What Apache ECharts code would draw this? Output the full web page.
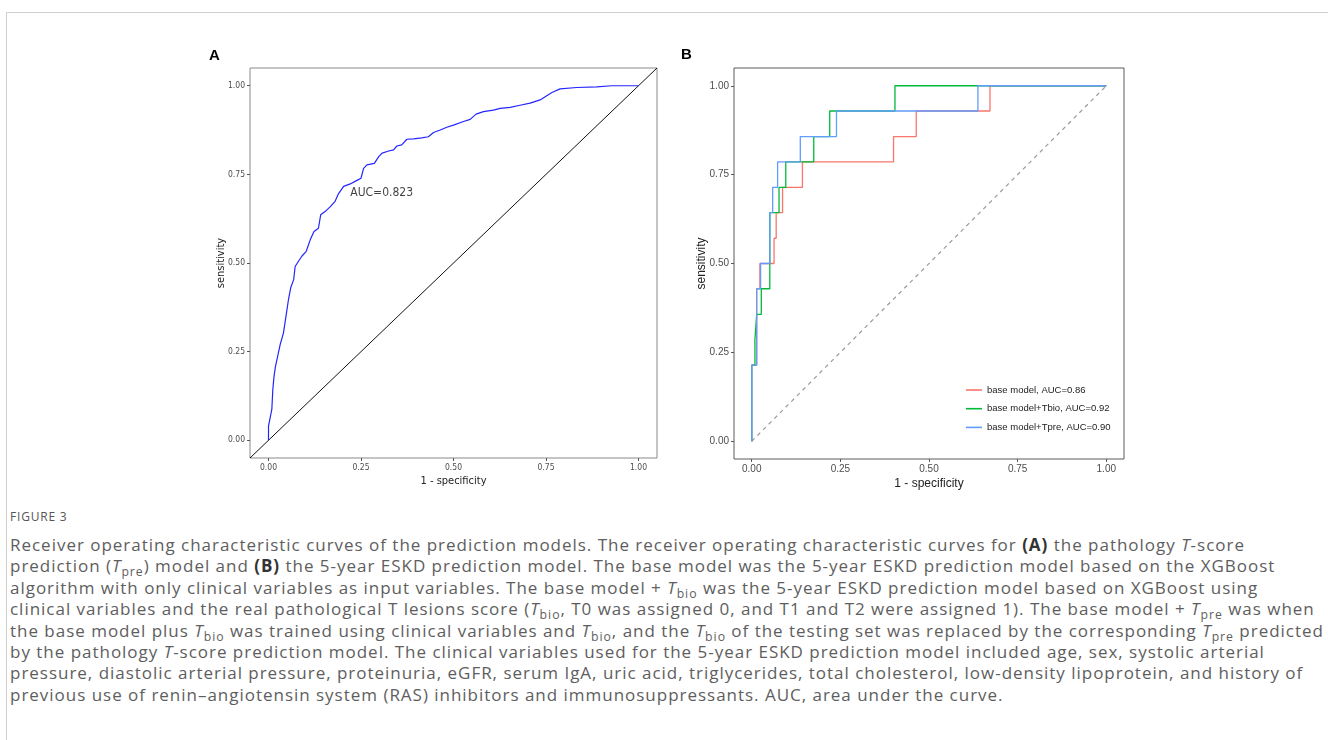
<!DOCTYPE html>
<html>
<head>
<meta charset="utf-8">
<script src="https://cdn.jsdelivr.net/npm/echarts@6/dist/echarts.min.js"></script>
<style>
  html, body { margin: 0; padding: 0; background: #fff; }
  #page { position: relative; width: 1328px; height: 740px; overflow: hidden; }
  #frame { position: absolute; left: 6px; top: 12px; right: -2px; bottom: -2px;
           border-top: 1px solid #cfcfcf; border-left: 1px solid #cfcfcf; }
  #chart { position: absolute; left: 0; top: 0; width: 1328px; height: 500px; }
  #figtitle { position: absolute; left: 10px; top: 509px; font-family: "Open Sans", sans-serif;
              font-size: 12px; line-height: 16px; color: #555; letter-spacing: 0.8px; }
  #caption { position: absolute; left: 10px; top: 534px; font-family: "Open Sans", sans-serif;
             font-size: 17px; line-height: 21.4px; color: #5e5e5e; white-space: nowrap; letter-spacing: 0.98px; }
  #caption b { color: #333; }
  #caption sub { font-size: 0.72em; line-height: 0; vertical-align: -0.3em; }
</style>
</head>
<body>
<div id="page">
  <div id="frame"></div>
  <div id="chart"></div>
  <div id="figtitle">FIGURE 3</div>
  <div id="caption">
    Receiver operating characteristic curves of the prediction models. The receiver operating characteristic curves for <b>(A)</b> the pathology <i>T</i>-score<br>
    prediction (<i>T</i><sub>pre</sub>) model and <b>(B)</b> the 5-year ESKD prediction model. The base model was the 5-year ESKD prediction model based on the XGBoost<br>
    algorithm with only clinical variables as input variables. The base model + <i>T</i><sub>bio</sub> was the 5-year ESKD prediction model based on XGBoost using<br>
    clinical variables and the real pathological T lesions score (<i>T</i><sub>bio</sub>, T0 was assigned 0, and T1 and T2 were assigned 1). The base model + <i>T</i><sub>pre</sub> was when<br>
    the base model plus <i>T</i><sub>bio</sub> was trained using clinical variables and <i>T</i><sub>bio</sub>, and the <i>T</i><sub>bio</sub> of the testing set was replaced by the corresponding <i>T</i><sub>pre</sub> predicted<br>
    by the pathology <i>T</i>-score prediction model. The clinical variables used for the 5-year ESKD prediction model included age, sex, systolic arterial<br>
    pressure, diastolic arterial pressure, proteinuria, eGFR, serum IgA, uric acid, triglycerides, total cholesterol, low-density lipoprotein, and history of<br>
    previous use of renin–angiotensin system (RAS) inhibitors and immunosuppressants. AUC, area under the curve.
  </div>
</div>
<script>
// panel A: pathology T-score prediction ROC
var fprA = [0, 0, 0.0045, 0.009, 0.0117, 0.015, 0.019, 0.024, 0.0315, 0.0405, 0.048, 0.054, 0.06, 0.068, 0.072,
  0.081, 0.09, 0.102, 0.113, 0.123, 0.135, 0.141, 0.153, 0.167, 0.18, 0.189, 0.203, 0.221, 0.239, 0.25, 0.257,
  0.266, 0.286, 0.298, 0.307, 0.325, 0.338, 0.347, 0.36, 0.374, 0.392, 0.414, 0.432, 0.446, 0.464, 0.482, 0.5,
  0.527, 0.545, 0.561, 0.581, 0.608, 0.626, 0.653, 0.68, 0.707, 0.734, 0.752, 0.766, 0.788, 0.833, 0.887, 0.928, 1];
var tprA = [0, 0.04, 0.064, 0.087, 0.144, 0.181, 0.209, 0.233, 0.27, 0.303, 0.355, 0.397, 0.43, 0.453, 0.49,
  0.505, 0.519, 0.533, 0.566, 0.589, 0.598, 0.636, 0.645, 0.659, 0.674, 0.695, 0.716, 0.723, 0.733, 0.739, 0.767,
  0.777, 0.781, 0.8, 0.81, 0.816, 0.819, 0.83, 0.833, 0.849, 0.85, 0.853, 0.856, 0.868, 0.875, 0.883, 0.889,
  0.899, 0.905, 0.92, 0.927, 0.931, 0.936, 0.939, 0.945, 0.951, 0.96, 0.972, 0.981, 0.991, 0.995, 0.997, 1, 1];
var aucA = 'AUC=0.823';
var aucAPos = [0.221, 0.697];
var refA = [[-0.05, -0.05], [1.05, 1.05]];

// panel B: 5-year ESKD models
var namesB = ['base model, AUC=0.86', 'base model+Tbio, AUC=0.92', 'base model+Tpre, AUC=0.90'];
var fprBase = [0, 0, 0.014, 0.014, 0.023, 0.023, 0.063, 0.063, 0.069, 0.069, 0.087, 0.087, 0.143, 0.143, 0.4, 0.4, 0.464, 0.464, 0.672, 0.672, 1];
var tprBase = [0, 0.214, 0.214, 0.429, 0.429, 0.5, 0.5, 0.571, 0.571, 0.643, 0.643, 0.714, 0.714, 0.786, 0.786, 0.857, 0.857, 0.929, 0.929, 1, 1];
var fprTbio = [0, 0, 0.009, 0.009, 0.014, 0.014, 0.027, 0.027, 0.051, 0.051, 0.077, 0.077, 0.096, 0.096, 0.175, 0.175, 0.22, 0.22, 0.404, 0.404, 1];
var tprTbio = [0, 0.214, 0.214, 0.286, 0.286, 0.357, 0.357, 0.429, 0.429, 0.643, 0.643, 0.714, 0.714, 0.786, 0.786, 0.857, 0.857, 0.929, 0.929, 1, 1];
var fprTpre = [0, 0, 0.014, 0.014, 0.025, 0.025, 0.051, 0.051, 0.059, 0.059, 0.073, 0.073, 0.137, 0.137, 0.239, 0.239, 0.638, 0.638, 1];
var tprTpre = [0, 0.214, 0.214, 0.429, 0.429, 0.5, 0.5, 0.643, 0.643, 0.714, 0.714, 0.786, 0.786, 0.857, 0.857, 0.929, 0.929, 1, 1];
var refB = [[0, 0], [1, 1]];
var colorsB = ['#F8766D', '#00BA38', '#619CFF'];
var ticks = [0, 0.25, 0.5, 0.75, 1];

function pairs(xs, ys) {
  return xs.map(function (x, i) { return [x, ys[i]]; });
}

var narrow = '"Liberation Sans Narrow", "DejaVu Sans Condensed", sans-serif';
var arial = '"Liberation Sans", Arial, sans-serif';

function makeAxis(idx, name, fam, tickSize, nameSize, nameGap) {
  return {
    type: 'value', gridIndex: idx, min: -0.05, max: 1.05,
    name: name, nameLocation: 'middle', nameGap: nameGap, nameMoveOverlap: false,
    nameTextStyle: { fontFamily: fam, fontSize: nameSize, color: '#222' },
    axisLine: { show: false, onZero: false },
    splitLine: { show: false },
    axisTick: { show: true, customValues: ticks, length: 3, lineStyle: { color: '#555' } },
    axisLabel: {
      show: true, customValues: ticks, margin: 5,
      fontFamily: fam, fontSize: tickSize, color: '#4d4d4d',
      formatter: function (v) { return v.toFixed(2); }
    }
  };
}

var chart = echarts.init(document.getElementById('chart'));

var option = {
  animation: false,
  grid: [
    { left: 250, top: 68, width: 407, height: 390, show: true, borderColor: '#8a8a8a', borderWidth: 1, backgroundColor: 'transparent' },
    { left: 734, top: 68, width: 390, height: 391, show: true, borderColor: '#5a5a5a', borderWidth: 1, backgroundColor: 'transparent' }
  ],
  xAxis: [
    makeAxis(0, '1 - specificity', narrow, 8.5, 11, 18),
    makeAxis(1, '1 - specificity', arial, 10, 12, 18.5)
  ],
  yAxis: [
    makeAxis(0, 'sensitivity', narrow, 8.5, 11, 23),
    makeAxis(1, 'sensitivity', arial, 10, 12, 26)
  ],
  legend: {
    data: namesB, orient: 'vertical', left: 961, top: 379,
    icon: 'rect', itemWidth: 16, itemHeight: 1.6, itemGap: 6.7,
    textStyle: { fontFamily: arial, fontSize: 9.5, lineHeight: 12, color: '#222' },
    selectedMode: false
  },
  graphic: [
    { type: 'text', left: 209, top: 48, style: { text: 'A', fontFamily: arial, fontWeight: 'bold', fontSize: 15, fill: '#000' } },
    { type: 'text', left: 681, top: 47, style: { text: 'B', fontFamily: arial, fontWeight: 'bold', fontSize: 15, fill: '#000' } }
  ],
  series: [
    {
      type: 'line', xAxisIndex: 0, yAxisIndex: 0, data: refA, symbol: 'none', silent: true,
      lineStyle: { color: '#111', width: 1 }
    },
    {
      type: 'line', xAxisIndex: 0, yAxisIndex: 0, data: pairs(fprA, tprA), symbol: 'none',
      lineStyle: { color: '#2424ff', width: 1.2 }
    },
    {
      type: 'scatter', xAxisIndex: 0, yAxisIndex: 0, data: [aucAPos], symbolSize: 0, silent: true,
      label: { show: true, position: 'right', distance: 0, formatter: aucA, fontFamily: narrow, fontSize: 12, color: '#111' }
    },
    {
      type: 'line', xAxisIndex: 1, yAxisIndex: 1, data: refB, symbol: 'none', silent: true,
      lineStyle: { color: '#9a9a9a', width: 1.2, type: [4, 4] }
    },
    {
      name: namesB[0], type: 'line', xAxisIndex: 1, yAxisIndex: 1, data: pairs(fprBase, tprBase), symbol: 'none',
      itemStyle: { color: colorsB[0] }, lineStyle: { color: colorsB[0], width: 1.3 }
    },
    {
      name: namesB[1], type: 'line', xAxisIndex: 1, yAxisIndex: 1, data: pairs(fprTbio, tprTbio), symbol: 'none',
      itemStyle: { color: colorsB[1] }, lineStyle: { color: colorsB[1], width: 1.3 }
    },
    {
      name: namesB[2], type: 'line', xAxisIndex: 1, yAxisIndex: 1, data: pairs(fprTpre, tprTpre), symbol: 'none',
      itemStyle: { color: colorsB[2] }, lineStyle: { color: colorsB[2], width: 1.3 }
    }
  ]
};

chart.setOption(option);
</script>
</body>
</html>
